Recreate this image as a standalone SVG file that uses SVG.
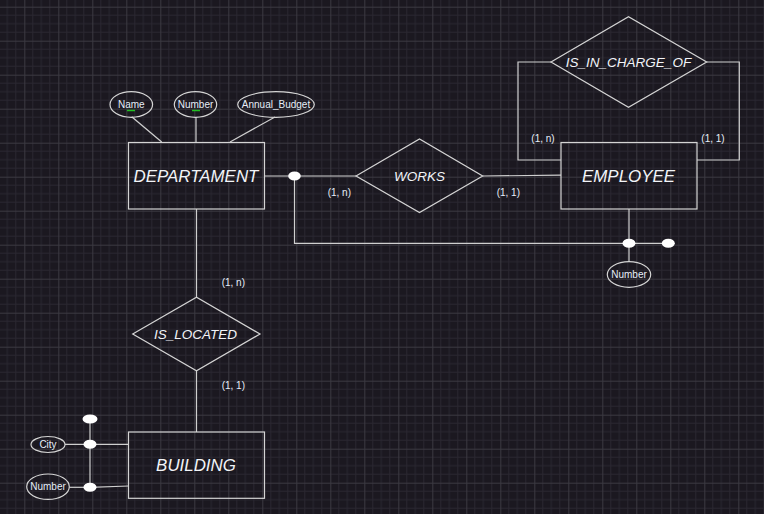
<svg xmlns="http://www.w3.org/2000/svg" width="764" height="514" viewBox="0 0 764 514">
<defs>
<pattern id="grid" patternUnits="userSpaceOnUse" x="24.3" y="6.7" width="34" height="34">
<path d="M8.5 0V34M17 0V34M25.5 0V34M0 8.5H34M0 17H34M0 25.5H34" stroke="#2a2731" stroke-width="1" fill="none"/>
<path d="M0.5 0V34M0 0.5H34" stroke="#3b3941" stroke-width="1" fill="none"/>
</pattern>
<style>
.ln{stroke:#cfcfcf;stroke-width:1.2;fill:none}
.sh{stroke:#d4d4d4;stroke-width:1.2;fill:none}
.dot{fill:#ffffff;stroke:none}
.big{font-family:"Liberation Sans",Arial,sans-serif;font-style:italic;font-size:16.9px;fill:#f2f4f8;text-anchor:middle}
.rel{font-family:"Liberation Sans",Arial,sans-serif;font-style:italic;font-size:13.5px;fill:#f2f4f8;text-anchor:middle}
.att{font-family:"Liberation Sans",Arial,sans-serif;font-size:10px;fill:#e6eef8;text-anchor:middle}
.lbl{font-family:"Liberation Sans",Arial,sans-serif;font-size:10px;fill:#e6eef8;text-anchor:middle}
.ul{stroke:#22c022;stroke-width:1.5}
</style>
</defs>
<rect width="764" height="514" fill="#1b1820"/>
<rect width="764" height="514" fill="url(#grid)"/>

<g id="connectors">
<line class="ln" x1="131.7" y1="116.7" x2="161.7" y2="142"/>
<line class="ln" x1="196" y1="117" x2="196" y2="142"/>
<line class="ln" x1="275" y1="117" x2="230" y2="142"/>
<line class="ln" x1="264" y1="176" x2="356" y2="176"/>
<polyline class="ln" points="294.5,176 294.5,243.3 668,243.3"/>
<line class="ln" x1="482.7" y1="176" x2="561" y2="175.2"/>
<line class="ln" x1="629" y1="209" x2="629" y2="261.7"/>
<polyline class="ln" points="551,62 518,62 518,160 561,160"/>
<polyline class="ln" points="706.7,62 739.3,62 739.3,160 697,160"/>
<line class="ln" x1="196.5" y1="209" x2="196.5" y2="297.3"/>
<line class="ln" x1="196.5" y1="370.7" x2="196.5" y2="432"/>
<line class="ln" x1="90" y1="419" x2="90" y2="487.3"/>
<line class="ln" x1="65" y1="444.3" x2="128.5" y2="444.3"/>
<line class="ln" x1="69.3" y1="487.3" x2="90" y2="487.3"/>
<line class="ln" x1="90" y1="487.3" x2="128.5" y2="486"/>
<ellipse class="dot" cx="294.5" cy="176" rx="6.3" ry="4.5"/>
<ellipse class="dot" cx="629" cy="243.3" rx="6.5" ry="4.5"/>
<ellipse class="dot" cx="668.3" cy="243.3" rx="6.5" ry="4.5"/>
<ellipse class="dot" cx="90" cy="419" rx="7.5" ry="4.5"/>
<ellipse class="dot" cx="90" cy="444.3" rx="6.5" ry="4.5"/>
<ellipse class="dot" cx="90" cy="487.3" rx="6.5" ry="4.5"/>
<text class="lbl" x="339.3" y="195.9">(1, n)</text>
<text class="lbl" x="508.3" y="195.9">(1, 1)</text>
<text class="lbl" x="543" y="141.6">(1, n)</text>
<text class="lbl" x="713" y="141.6">(1, 1)</text>
<text class="lbl" x="233.3" y="286.3">(1, n)</text>
<text class="lbl" x="233.3" y="388.6">(1, 1)</text>
</g>

<g id="departament">
<rect class="sh" x="128.5" y="142.5" width="136" height="66.5"/>
<text class="big" x="196" y="182">DEPARTAMENT</text>
</g>
<g id="dep-name">
<ellipse class="sh" cx="131.3" cy="104.5" rx="21.3" ry="12.8"/>
<text class="att" x="131.3" y="108">Name</text>
<line class="ul" x1="127" y1="110.5" x2="135" y2="110.5"/>
</g>
<g id="dep-number">
<ellipse class="sh" cx="195.5" cy="104.5" rx="21.2" ry="12.8"/>
<text class="att" x="195.5" y="108">Number</text>
<line class="ul" x1="192" y1="110.5" x2="200" y2="110.5"/>
</g>
<g id="dep-budget">
<ellipse class="sh" cx="276" cy="104.5" rx="38.3" ry="12.8"/>
<text class="att" x="276" y="108">Annual_Budget</text>
</g>
<g id="works">
<polygon class="sh" points="356,176 419.5,139 482.7,176 419.5,212.5"/>
<text class="rel" x="419.5" y="180.8">WORKS</text>
</g>
<g id="employee">
<rect class="sh" x="561" y="142.5" width="136" height="66.5"/>
<text class="big" x="628.5" y="182">EMPLOYEE</text>
</g>
<g id="is-in-charge-of">
<polygon class="sh" points="551,62 628.5,16.7 706.7,62 628.5,107.3"/>
<text class="rel" x="628.5" y="66.8">IS_IN_CHARGE_OF</text>
</g>
<g id="emp-number">
<ellipse class="sh" cx="629" cy="274.5" rx="21.7" ry="12.8"/>
<text class="att" x="629" y="278">Number</text>
</g>
<g id="is-located">
<polygon class="sh" points="132.7,334 196.5,297.3 260,334 196.5,370.7"/>
<text class="rel" x="195.5" y="338.8">IS_LOCATED</text>
</g>
<g id="building">
<rect class="sh" x="128.5" y="432" width="136" height="66.3"/>
<text class="big" x="196" y="471.2">BUILDING</text>
</g>
<g id="bld-city">
<ellipse class="sh" cx="48" cy="444.5" rx="17" ry="8"/>
<text class="att" x="48" y="448">City</text>
</g>
<g id="bld-number">
<ellipse class="sh" cx="48" cy="486.7" rx="21.3" ry="12.7"/>
<text class="att" x="48" y="490.2">Number</text>
</g>
</svg>
